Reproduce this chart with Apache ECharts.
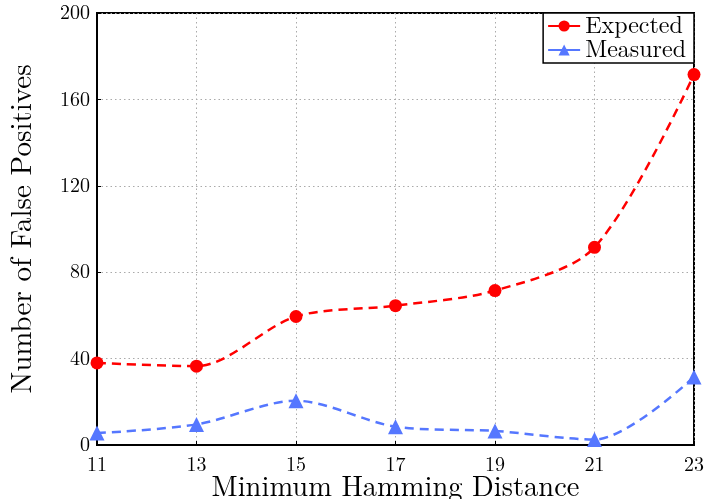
<!DOCTYPE html>
<html><head><meta charset="utf-8">
<script src="https://cdn.jsdelivr.net/npm/echarts@6/dist/echarts.min.js"></script>
<style>html,body{margin:0;padding:0;background:#fff}#c{width:706px;height:499px}</style>
</head><body><div id="c"></div>
<script>
const distances = [11, 13, 15, 17, 19, 21, 23];
const expected = [38, 36.5, 59.5, 64.5, 71.5, 91.5, 171.5];
const measured = [5.5, 9.5, 20.5, 8.5, 6.5, 2.5, 31.5];
const yTicks = [0, 40, 80, 120, 160, 200];

const font = '"Latin Modern Roman","DejaVu Serif","Liberation Serif",serif';
const chart = echarts.init(document.getElementById('c'));
chart.setOption({
  animation: false,
  backgroundColor: '#fff',
  grid: {left: 97, right: 12, top: 13, bottom: 54, outerBoundsMode: 'none', containLabel: false,
    show: true, borderColor: '#000', borderWidth: 2, backgroundColor: 'transparent'},
  legend: {
    right: 12, top: 13, orient: 'vertical', itemGap: 0, itemWidth: 32, itemHeight: 14,
    padding: [1, 8, 1, 4],
    borderColor: '#000', borderWidth: 1.5, backgroundColor: '#fff',
    lineStyle: {type: 'solid'},
    textStyle: {fontFamily: font, fontSize: 24, color: '#000'},
    data: ['Expected', 'Measured']
  },
  xAxis: {
    type: 'value', min: 11, max: 23, interval: 2,
    name: 'Minimum Hamming Distance', nameLocation: 'middle', nameGap: 28, nameMoveOverlap: false,
    nameTextStyle: {fontFamily: font, fontSize: 28.5, color: '#000'},
    axisLine: {lineStyle: {color: '#000', width: 2}},
    axisTick: {inside: true, length: 4, lineStyle: {color: '#000'}},
    axisLabel: {fontFamily: font, fontSize: 20, color: '#000', margin: 10},
    splitLine: {show: true, lineStyle: {color: '#aaa', type: [1.5, 3], width: 1}}
  },
  yAxis: {
    type: 'value', min: 0, max: 200, interval: 40,
    name: 'Number of False Positives', nameLocation: 'middle', nameGap: 60, nameMoveOverlap: false,
    nameTextStyle: {fontFamily: font, fontSize: 29, color: '#000'},
    axisLine: {lineStyle: {color: '#000', width: 2}},
    axisTick: {inside: true, length: 4, lineStyle: {color: '#000'}},
    axisLabel: {fontFamily: font, fontSize: 20, color: '#000', margin: 7,
      formatter: v => yTicks.includes(v) ? String(v) : ''},
    splitLine: {show: true, lineStyle: {color: '#aaa', type: [1.5, 3], width: 1}}
  },
  series: [
    {
      name: 'Expected', type: 'line', smooth: 0.3,
      data: distances.map((d, i) => [d, expected[i]]),
      symbol: 'circle', symbolSize: 13,
      itemStyle: {color: '#ff0000'},
      lineStyle: {color: '#ff0000', width: 2.5, type: [9, 6]},
      z: 3
    },
    {
      name: 'Measured', type: 'line', smooth: 0.3,
      data: distances.map((d, i) => [d, measured[i]]),
      symbol: 'triangle', symbolSize: 15,
      itemStyle: {color: '#5577ff'},
      lineStyle: {color: '#5577ff', width: 2.5, type: [9, 6]},
      z: 2
    }
  ]
});
</script></body></html>
